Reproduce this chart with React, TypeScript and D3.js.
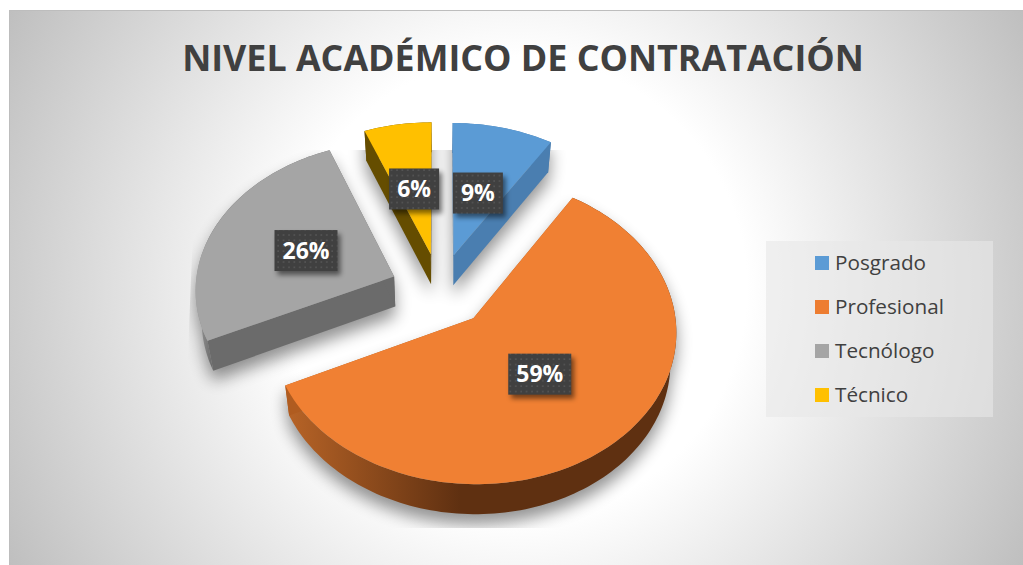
import React from "react";
import * as d3 from "d3";

const categories = ["Posgrado", "Profesional", "Tecnólogo", "Técnico"];
const shares = [9, 59, 26, 6];
const topColors = ["#5b9bd5", "#f08033", "#a5a5a5", "#ffc000"];
const legendColors = ["#5b9bd5", "#ed7d31", "#a5a5a5", "#ffc000"];
const sideColors = ["#4a7eb0", "#b05c20", "#6b6b6b", "#654d00"];
const labelRadii = [0.47, 0.475, 0.49, 0.485];
const titleText = "NIVEL ACADÉMICO DE CONTRATACIÓN";
const drawOrder = [2, 3, 0, 1];

const W = 1023, H = 565;
const CX = 440, CY = 290, RX = 199, RY = 148, PERSP = 0.08, EXPLODE = 0.25, DEPTH = 30, SHRINK = 0.975;

type P = [number, number];
const project = (u: number, v: number): P => {
  const w = 1 - PERSP * v;
  return [CX + (RX * u) / w, CY + (RY * v) / w];
};
const lower = ([x, y]: P): P => [CX + (x - CX) * SHRINK, y + DEPTH];
const line = d3.line<P>().x((d) => d[0]).y((d) => d[1]);

const arcs = d3.pie<number>().sort(null)(shares);
const slices = arcs.map((a, i) => {
  const mid = (a.startAngle + a.endAngle) / 2;
  const ox = EXPLODE * Math.sin(mid), oy = -EXPLODE * Math.cos(mid);
  const at = (r: number, t: number) => project(ox + r * Math.sin(t), oy - r * Math.cos(t));
  const apex = at(0, 0);
  const n = Math.max(4, Math.ceil((a.endAngle - a.startAngle) * 40));
  const rim = d3.range(n + 1).map((k) => at(1, a.startAngle + ((a.endAngle - a.startAngle) * k) / n));
  const face: P[] = [apex, ...rim];
  const wall = (pts: P[]) => line([...pts, ...pts.map(lower).reverse()]) + "Z";
  return {
    i,
    top: line(face) + "Z",
    bottom: line(face.map(lower)) + "Z",
    outer: wall(rim),
    edgeA: wall([apex, rim[0]]),
    edgeB: wall([apex, rim[n]]),
    label: at(labelRadii[i], mid),
    pct: `${Math.round(a.value)}%`,
  };
});

const legendY = d3.scalePoint<string>().domain(categories).range([263, 395]);

export default function App() {
  return (
    <svg width={W} height={H} style={{ position: "absolute", left: 0, top: 0 }} fontFamily="'Open Sans', sans-serif">
      <defs>
        <radialGradient id="bg" gradientUnits="userSpaceOnUse" cx={516} cy={288} r={577}>
          <stop offset="0.4" stopColor="#ffffff" />
          <stop offset="1" stopColor="#bfbfbf" />
        </radialGradient>
        <linearGradient id="wall1" gradientUnits="userSpaceOnUse" x1={286} x2={460} y1={0} y2={0}>
          <stop offset="0" stopColor="#b86427" />
          <stop offset="1" stopColor="#5f3011" />
        </linearGradient>
        <linearGradient id="wall2" gradientUnits="userSpaceOnUse" x1={195} x2={212} y1={0} y2={0}>
          <stop offset="0" stopColor="#a0a0a0" />
          <stop offset="1" stopColor="#6b6b6b" />
        </linearGradient>
        <filter id="soft" filterUnits="userSpaceOnUse" x={100} y={80} width={700} height={500}>
          <feGaussianBlur stdDeviation="8" />
        </filter>
        <filter id="boxShadow" x="-30%" y="-30%" width="160%" height="160%">
          <feGaussianBlur stdDeviation="2.5" />
        </filter>
        <clipPath id="shadowClip">
          <path d="M196,150 H760 V528 H187 L187,380 Z" />
        </clipPath>
        <pattern id="dots" width="5.4" height="5.4" patternUnits="userSpaceOnUse">
          <rect width="5.4" height="5.4" fill="#404040" />
          <rect x="2" y="2" width="1.6" height="1.6" fill="#565656" />
        </pattern>
      </defs>
      <rect x={9.5} y={10.5} width={W} height={H} fill="url(#bg)" stroke="#bdbdbd" />
      <text x={523} y={71} textAnchor="middle" fontSize={35.8} fontWeight={700} fill="#404040">{titleText}</text>

      <g clipPath="url(#shadowClip)">
        <g filter="url(#soft)" transform="translate(0,10)" opacity={0.42}>
          {slices.map((s) => (
            <g key={s.i} fill="#000">
              <path d={s.top} />
              <path d={s.bottom} />
              <path d={s.outer} />
              <path d={s.edgeA} />
              <path d={s.edgeB} />
            </g>
          ))}
        </g>
      </g>

      {drawOrder.map((i) => {
        const s = slices[i];
        const outerFill = i === 1 ? "url(#wall1)" : i === 2 ? "url(#wall2)" : sideColors[i];
        return (
          <g key={i}>
            <path d={s.outer} fill={outerFill} />
            <path d={s.edgeA} fill={sideColors[i]} />
            <path d={s.edgeB} fill={sideColors[i]} />
            <path d={s.top} fill={topColors[i]} />
          </g>
        );
      })}

      {slices.map((s) => {
        const w = s.pct.length > 2 ? 63 : 50;
        const h = 41;
        const [lx, ly] = s.label;
        return (
          <g key={s.i}>
            <rect x={lx - w / 2 + 3} y={ly - h / 2 + 4} width={w} height={h} fill="#000" opacity={0.5} filter="url(#boxShadow)" />
            <rect x={lx - w / 2} y={ly - h / 2} width={w} height={h} fill="url(#dots)" />
            <text x={lx} y={ly + 8} textAnchor="middle" fontSize={23} fontWeight={700} fill="#fff">{s.pct}</text>
          </g>
        );
      })}

      <rect x={766} y={241} width={227} height={176} fill="#e8e8e8" fillOpacity={0.6} />
      {categories.map((c, i) => {
        const y = legendY(c) as number;
        return (
          <g key={c}>
            <rect x={815} y={y - 7} width={14} height={14} fill={legendColors[i]} />
            <text x={835} y={y + 7} fontSize={20.7} fill="#404040">{c}</text>
          </g>
        );
      })}
    </svg>
  );
}
